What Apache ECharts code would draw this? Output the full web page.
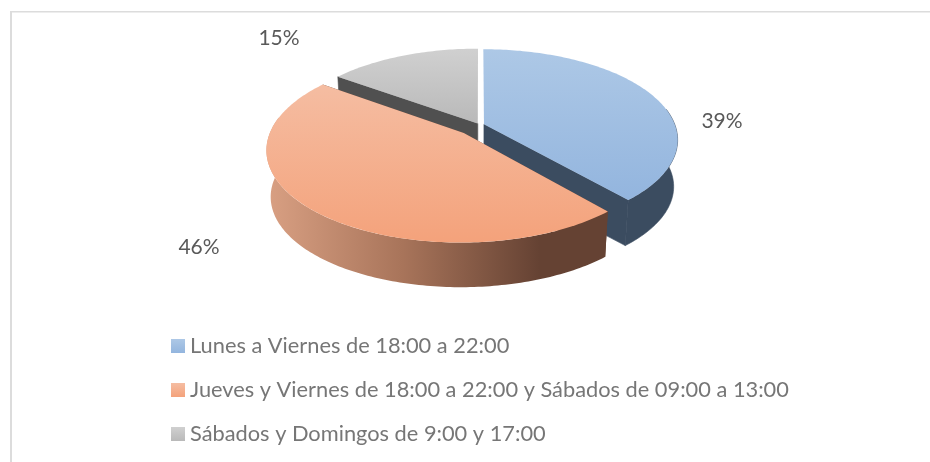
<!DOCTYPE html>
<html>
<head>
<meta charset="utf-8">
<script src="https://cdn.jsdelivr.net/npm/echarts@6/dist/echarts.min.js"></script>
<style>
  html, body { margin: 0; padding: 0; background: #fff; }
  #chart { width: 930px; height: 462px; }
</style>
</head>
<body>
<div id="chart"></div>
<script>
const categories = [
  "Lunes a Viernes de 18:00 a 22:00",
  "Jueves y Viernes de 18:00 a 22:00 y Sábados de 09:00 a 13:00",
  "Sábados y Domingos de 9:00 y 17:00",
];
// the labels round these to 39 / 46 / 15
const shares = [38.6, 46.4, 15];

// how far each slice is pulled out of the pie
const explode = [0.025, 0.12, 0.02];
const labelSpots = [[722, 121], [199, 247], [279, 38]];
const topColors = [
  ["#adc8e6", "#93b5de"],
  ["#f5bda2", "#f4a27b"],
  ["#d0d0d0", "#b9b9b9"],
];
const wallColors = ["#3b4c60", null, "#505050"];

const centerX = 479.5;
const centerY = 125;
const radius = 191;
const flatten = 88;
const persp = 0.17;
const depth = 47;
const lowerScale = 0.98;
// only this part of the rim faces the viewer
const rimFrom = 80;
const rimTo = 280;

const vertical = (a, b) => ({
  type: "linear", x: 0, y: 0, x2: 0, y2: 1,
  colorStops: [{ offset: 0, color: a }, { offset: 1, color: b }],
});
const orangeWall = {
  type: "linear", x: 0, y: 0, x2: 1, y2: 0,
  colorStops: [
    { offset: 0, color: "#d9a083" },
    { offset: 0.4, color: "#a8745a" },
    { offset: 0.8, color: "#654233" },
    { offset: 1, color: "#654233" },
  ],
};

const sliceStart = (idx) => shares.slice(0, idx).reduce((s, v) => s + v, 0) * 3.6;

// angle in degrees, clockwise from the back of the pie
const project = (idx, deg, r, lower) => {
  const mid = ((sliceStart(idx) + shares[idx] * 1.8) * Math.PI) / 180;
  const a = (deg * Math.PI) / 180;
  const u = Math.sin(a) * r + Math.sin(mid) * explode[idx];
  const v = Math.cos(a) * r + Math.cos(mid) * explode[idx];
  const p = (1 / (1 + persp * v)) * (lower ? lowerScale : 1);
  return [
    centerX + radius * u * p,
    centerY - flatten * v * p + (lower ? depth : 0),
  ];
};

const arc = (idx, from, to, lower) => {
  const pts = [];
  const steps = Math.ceil(Math.abs(to - from));
  for (let i = 0; i <= steps; i++) {
    pts.push(project(idx, from + ((to - from) * i) / steps, 1, lower));
  }
  return pts;
};

const poly = (points, fill, stroke) => ({
  type: "polygon",
  shape: { points },
  style: stroke ? { fill, stroke, lineWidth: 0.6 } : { fill },
});

const renderSlice = (idx) => (params, api) => {
  const value = api.value(0);
  const from = sliceStart(idx);
  const to = from + value * 3.6;
  const flat = wallColors[idx];
  const children = [];

  // cut walls
  [from, to].forEach((deg) => {
    if (deg === 0 || Math.round(deg) === 360) return;
    children.push(poly([
      project(idx, 0, 0, false),
      project(idx, deg, 1, false),
      project(idx, deg, 1, true),
      project(idx, 0, 0, true),
    ], flat || "#654233", flat));
  });
  // outer wall
  const rimA = Math.max(from, rimFrom);
  const rimB = Math.min(to, rimTo);
  if (rimA < rimB) {
    children.push(poly(arc(idx, rimA, rimB, false).concat(arc(idx, rimB, rimA, true)), flat || orangeWall, flat));
  }
  // top
  const top = [project(idx, 0, 0, false)].concat(arc(idx, from, to, false));
  children.push(poly(top, vertical(topColors[idx][0], topColors[idx][1])));
  // data label
  children.push({
    type: "text",
    style: {
      text: Math.round(value) + "%",
      x: labelSpots[idx][0],
      y: labelSpots[idx][1],
      align: "center",
      verticalAlign: "middle",
      fill: "#595959",
      font: '21px "Lato"',
    },
  });
  return { type: "group", children };
};

const chart = echarts.init(document.getElementById("chart"));

chart.setOption({
  animation: false,
  backgroundColor: "#fff",
  graphic: [
    { type: "rect", shape: { x: 10, y: 11, width: 920, height: 1.5 }, style: { fill: "#dcdcdc" } },
    { type: "rect", shape: { x: 10, y: 11, width: 2, height: 451 }, style: { fill: "#dcdcdc" } },
  ],
  legend: {
    orient: "vertical",
    left: 171,
    top: 335,
    height: 127,
    padding: 0,
    itemWidth: 14,
    itemHeight: 14,
    itemGap: 22,
    icon: "rect",
    textStyle: { fontFamily: "Lato", fontSize: 21.8, color: "#767676" },
    data: categories.map((name, i) => ({
      name,
      itemStyle: { color: vertical(topColors[i][0], topColors[i][1]) },
    })),
  },
  series: categories.map((name, i) => ({
    type: "custom",
    name,
    coordinateSystem: "none",
    renderItem: renderSlice(i),
    itemStyle: { color: topColors[i][1] },
    data: [[shares[i]]],
    z: [1, 3, 2][i],
  })),
});
</script>
</body>
</html>
